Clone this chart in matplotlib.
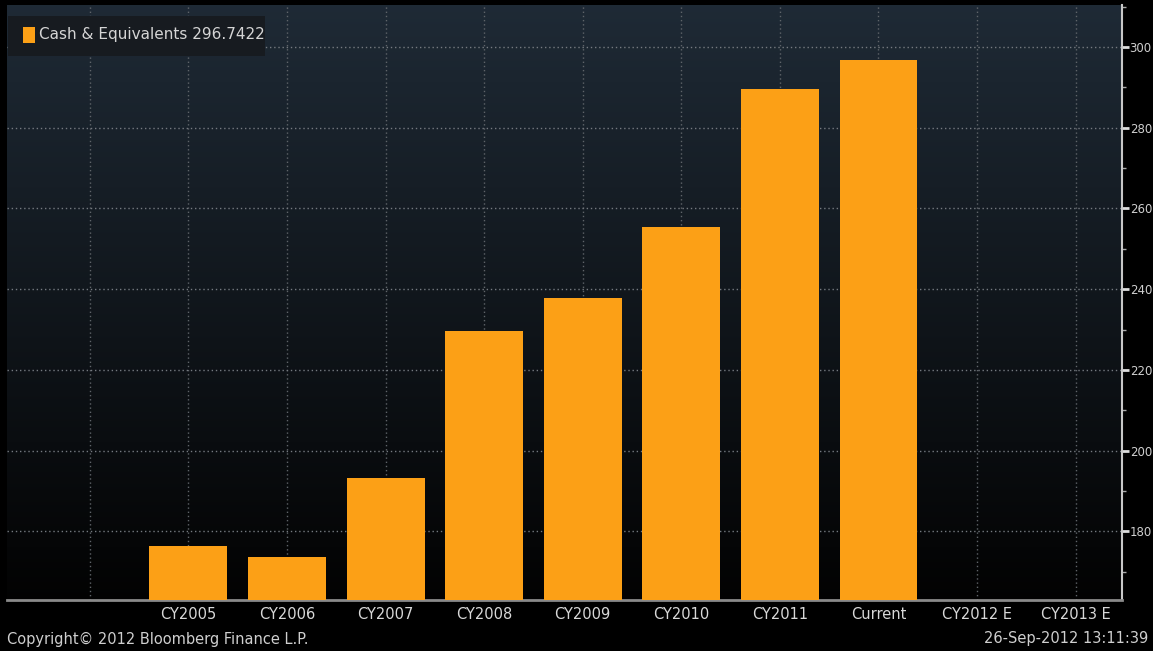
import numpy as np
import matplotlib
matplotlib.use("Agg")
import matplotlib.pyplot as plt
from matplotlib.patches import Rectangle

categories = ["CY2005", "CY2006", "CY2007", "CY2008", "CY2009", "CY2010",
              "CY2011", "Current", "CY2012 E", "CY2013 E"]
values = [176.5, 173.6, 193.1, 229.7, 237.8, 255.5, 289.6, 296.7422, np.nan, np.nan]
yticks = [180, 200, 220, 240, 260, 280, 300]
legend_label = "Cash & Equivalents 296.7422"

W, H = 1153, 651
fig = plt.figure(figsize=(W / 100, H / 100), dpi=100, facecolor="black")
ax = fig.add_axes([7 / W, 1 - 600 / H, (1122 - 7) / W, (600 - 5) / H])
ax.set_facecolor("black")

# gradient background
grad = np.linspace(0, 1, 256).reshape(-1, 1)
top = np.array([0.12, 0.165, 0.21])
bot = np.array([0.01, 0.01, 0.01])
img = bot[None, None, :] * (1 - grad[:, :, None]) + top[None, None, :] * grad[:, :, None]
ax.imshow(img, extent=[0, 1, 0, 1], transform=ax.transAxes, aspect="auto",
          origin="lower", zorder=0)

x = np.arange(len(categories))
heights = [0 if np.isnan(v) else v - 150 for v in values]
ax.bar(x, heights, bottom=150, width=0.79, color="#FCA016", zorder=3)

ax.set_xlim(-1.84, 9.47)
ax.set_ylim(163, 310.4)

ax.set_xticks(np.arange(-1, 10))
ax.set_xticklabels([""] + categories)
ax.set_yticks(yticks)
ax.set_yticks(np.arange(170, 311, 10), minor=True)
ax.grid(True, which="major", axis="y", color="#757a80", linestyle=(0, (1, 2)),
        linewidth=1.0, zorder=1)
ax.grid(True, which="major", axis="x", color="#5f6469", linestyle=(0, (1, 2)),
        linewidth=1.0, zorder=1)

ax.yaxis.tick_right()
ax.tick_params(axis="y", which="major", direction="out", length=5, width=2,
               color="#dddddd", labelcolor="#cfcfcf", labelsize=8.5, pad=0.5)
ax.tick_params(axis="y", which="minor", direction="out", length=3, width=1,
               color="#aaaaaa")
ax.tick_params(axis="x", which="both", length=0, labelcolor="#d8d8d8",
               labelsize=10.5, pad=5)

for s in ["top", "left"]:
    ax.spines[s].set_visible(False)
ax.spines["right"].set_color("#c8c8c8")
ax.spines["right"].set_linewidth(1.5)
ax.spines["bottom"].set_color("#8a8a8a")
ax.spines["bottom"].set_linewidth(2)

# legend box
fig.patches.append(Rectangle((8 / W, 1 - 56 / H), (265 - 8) / W, (56 - 16) / H,
                             transform=fig.transFigure, facecolor="#171b20",
                             edgecolor="none", zorder=5))
fig.patches.append(Rectangle((23 / W, 1 - 43 / H), 12 / W, 16 / H,
                             transform=fig.transFigure, facecolor="#FCA016",
                             edgecolor="none", zorder=6))
fig.text(39 / W, 1 - 35 / H, legend_label, color="#d5d5d5", fontsize=11,
         va="center", ha="left", zorder=7)

fig.text(7 / W, 1 - 639 / H, "Copyright\u00a9 2012 Bloomberg Finance L.P.",
         color="#cfcfcf", fontsize=10.5, va="center", ha="left")
fig.text(1148 / W, 1 - 639 / H, "26-Sep-2012 13:11:39",
         color="#cfcfcf", fontsize=10.5, va="center", ha="right")

fig.savefig("out.png", dpi=100, facecolor="black")
